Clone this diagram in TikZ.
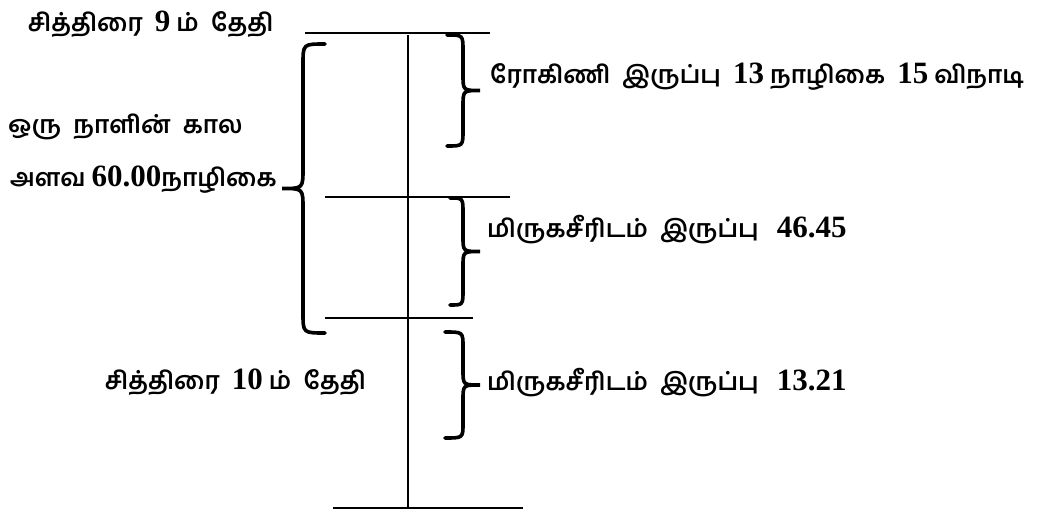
\documentclass[tikz,border=0pt]{standalone}
\usepackage{fontspec}
\setmainfont{Liberation Serif}
\newfontfamily\tamilfont[Script=Tamil]{Hind Madurai}
\usetikzlibrary{positioning}
\newcommand\nmb[1]{{\rmfamily\bfseries\fontsize{31}{33}\selectfont #1}}

\begin{document}
\begin{tikzpicture}[x=1pt,y=-1pt,
  lbl/.style={anchor=west,inner sep=0pt,font=\tamilfont\bfseries\fontsize{24.5}{28}\selectfont},
  rule/.style={line width=1.3pt},
  brc/.style={line width=3.6pt,line cap=round}]
\useasboundingbox (0,0) rectangle (1048,511);
% time axis
\coordinate (axtop) at (408,35);
\coordinate (axbot) at (408,508);
\draw[rule] (axtop) -- (axbot);
\foreach \y/\l/\r in {33/305/490,197/325/510,318/325/473,508/333/523}
  \draw[rule] (\l,\y) -- (\r,\y);
% braces: end x, top, bottom, body offset, tip offset, curl
\foreach \x/\ya/\yb/\b/\a/\r in {325/44/333/-22/-43/20, 447/35/146/16/33/16,
    450/198/305/13/30/15, 445/332/438/18/35/15}{
  \pgfmathsetmacro\m{(\ya+\yb)/2}
  \draw[brc] (\x,\ya) .. controls (\x+\b,\ya) .. (\x+\b,\ya+\r)
    -- (\x+\b,\m-\r) .. controls (\x+\b,\m) .. (\x+\a,\m)
    .. controls (\x+\b,\m) .. (\x+\b,\m+\r)
    -- (\x+\b,\yb-\r) .. controls (\x+\b,\yb) .. (\x,\yb);
}
% labels
\node[lbl] (d9) at (28,24) {சித்திரை\ \ \nmb{9} ம்\ \ தேதி};
\node[lbl] (span1) at (8,127) {ஒரு\ \ நாளின்\ \ கால};
\node[lbl] (span2) at (10,180) {அளவ \nmb{60.00}நாழிகை};
\node[lbl] (d10) at (105,382) {சித்திரை\ \ \nmb{10} ம்\ \ தேதி};
\node[lbl] (rohini) at (490,77) {ரோகிணி\ \ இருப்பு\ \ \nmb{13} நாழிகை\ \ \nmb{15} விநாடி};
\node[lbl] (mrg1) at (487,230) {மிருகசீரிடம்\ \ இருப்பு\ \ \ \nmb{46.45}};
\node[lbl] (mrg2) at (487,383) {மிருகசீரிடம்\ \ இருப்பு\ \ \ \nmb{13.21}};
\end{tikzpicture}
\end{document}
